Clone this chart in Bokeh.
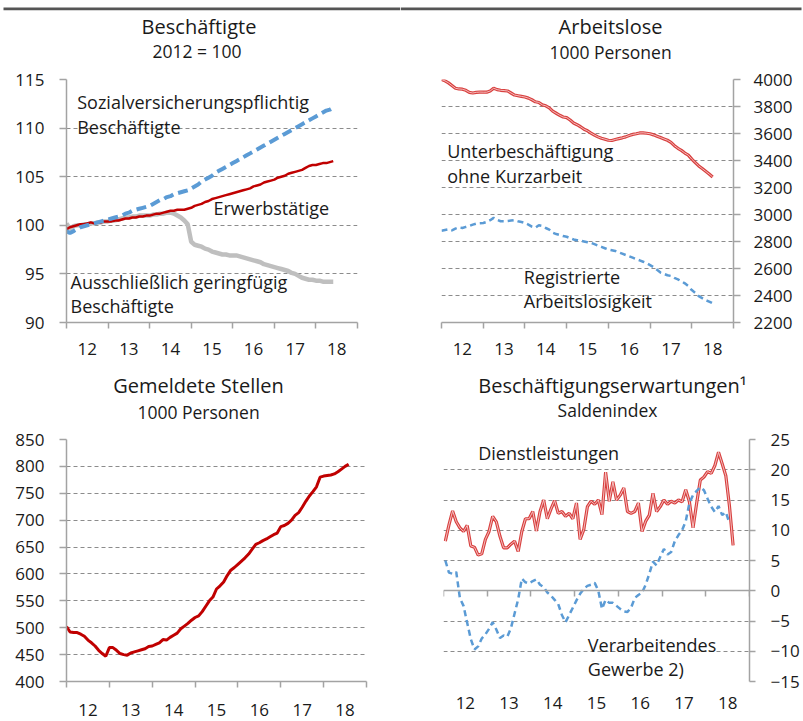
import numpy as np
from bokeh.plotting import figure
from bokeh.models import Range1d, FixedTicker, Label, LinearAxis, BoxAnnotation
from bokeh.layouts import column, row
from bokeh.embed import file_html
from bokeh.resources import INLINE

# ---------------- data ----------------
YEARS = [2012, 2013, 2014, 2015, 2016, 2017, 2018, 2019]
YEAR_LABELS = ["12", "13", "14", "15", "16", "17", "18"]

# Panel 1: Beschaeftigte, 2012 = 100 (monthly from Jan 2012)
SV_BESCH = [99.4, 99.2, 99.4, 99.6, 99.8, 99.9, 100.0, 100.1, 100.2, 100.3, 100.4, 100.5,
            100.6, 100.7, 100.8, 100.9, 101.0, 101.2, 101.3, 101.5, 101.6, 101.7, 101.8, 101.9,
            102.0, 102.2, 102.4, 102.6, 102.7, 102.9, 103.0, 103.2, 103.3, 103.4, 103.5, 103.6,
            103.8, 104.0, 104.2, 104.5, 104.7, 104.9, 105.1, 105.4, 105.6, 105.8, 106.0, 106.2,
            106.4, 106.6, 106.8, 107.0, 107.2, 107.4, 107.6, 107.8, 108.0, 108.2, 108.4, 108.6,
            108.8, 109.0, 109.2, 109.4, 109.6, 109.8, 110.0, 110.2, 110.4, 110.6, 110.8, 111.0,
            111.2, 111.4, 111.6, 111.8, 111.9, 112.1]
ERWERB = [99.6, 99.8, 99.9, 100.0, 100.1, 100.1, 100.2, 100.3, 100.2, 100.3, 100.3, 100.4,
          100.4, 100.4, 100.5, 100.5, 100.6, 100.7, 100.7, 100.8, 100.8, 100.9, 100.9, 101.0,
          101.0, 101.1, 101.2, 101.2, 101.3, 101.4, 101.5, 101.5, 101.6, 101.6, 101.6, 101.7,
          101.8, 102.0, 102.1, 102.2, 102.4, 102.5, 102.7, 102.8, 102.9, 103.0, 103.1, 103.2,
          103.3, 103.4, 103.5, 103.6, 103.7, 103.8, 104.0, 104.1, 104.2, 104.4, 104.5, 104.6,
          104.7, 104.9, 105.0, 105.1, 105.3, 105.4, 105.5, 105.6, 105.7, 105.9, 106.1, 106.2,
          106.2, 106.3, 106.4, 106.4, 106.5, 106.6]
GERINGF = [100.2, 99.6, 99.9, 100.0, 100.0, 100.1, 100.1, 100.2, 100.2, 100.3, 100.3, 100.4,
           100.4, 100.5, 100.5, 100.6, 100.7, 100.8, 100.8, 100.9, 100.9, 101.0, 101.0, 101.0,
           101.0, 101.1, 101.1, 101.2, 101.2, 101.3, 101.3, 101.2, 101.0, 100.8, 100.5, 100.1,
           98.3, 98.0, 97.9, 97.8, 97.6, 97.5, 97.3, 97.2, 97.1, 97.0, 97.0, 96.9,
           96.9, 96.9, 96.8, 96.7, 96.6, 96.5, 96.4, 96.3, 96.2, 96.0, 95.9, 95.8,
           95.7, 95.6, 95.5, 95.4, 95.3, 95.1, 95.0, 94.8, 94.6, 94.5, 94.4, 94.4,
           94.3, 94.3, 94.2, 94.2, 94.2, 94.2]

# Panel 2: Arbeitslose, 1000 Personen (monthly from Jan 2012)
UNTERBESCH = [4000, 3990, 3975, 3955, 3935, 3930, 3928, 3920, 3905, 3900, 3905, 3907,
              3906, 3906, 3915, 3935, 3925, 3920, 3918, 3915, 3900, 3885, 3880, 3875,
              3870, 3862, 3850, 3835, 3830, 3812, 3805, 3790, 3765, 3750, 3735, 3722,
              3718, 3700, 3678, 3665, 3650, 3632, 3620, 3603, 3588, 3575, 3565, 3558,
              3550, 3548, 3556, 3562, 3568, 3575, 3585, 3593, 3598, 3604, 3605, 3602,
              3598, 3590, 3580, 3570, 3560, 3550, 3535, 3510, 3490, 3475, 3455, 3440,
              3410, 3385, 3360, 3340, 3320, 3300, 3278]
REGISTRIERT = [2880, 2885, 2890, 2882, 2895, 2905, 2900, 2908, 2915, 2925, 2932, 2935,
               2937, 2945, 2958, 2975, 2960, 2950, 2950, 2952, 2955, 2958, 2950, 2945,
               2938, 2925, 2910, 2902, 2920, 2915, 2900, 2888, 2865, 2855, 2848, 2840,
               2835, 2825, 2815, 2810, 2805, 2800, 2795, 2790, 2780, 2770, 2760, 2750,
               2740, 2735, 2730, 2720, 2710, 2700, 2690, 2680, 2670, 2660, 2650, 2640,
               2625, 2610, 2590, 2570, 2560, 2550, 2545, 2530, 2520, 2505, 2490, 2470,
               2440, 2420, 2395, 2380, 2365, 2355, 2342]

# Panel 3: Gemeldete Stellen, 1000 Personen (monthly from Jan 2012)
STELLEN = [502, 492, 491, 491, 488, 484, 477, 472, 466, 458, 452, 447,
           463, 463, 458, 452, 450, 449, 453, 455, 457, 459, 461, 465,
           466, 469, 472, 478, 477, 482, 486, 490, 498, 503, 508, 514,
           519, 522, 530, 540, 550, 557, 572, 578, 585, 597, 607, 612,
           618, 624, 630, 637, 646, 655, 658, 662, 665, 669, 673, 676,
           688, 690, 694, 700, 709, 714, 724, 735, 745, 753, 762, 780,
           782, 783, 784, 786, 790, 795, 800, 804]

# Panel 4: Beschaeftigungserwartungen, Saldenindex (monthly, mid-month from Jan 2012)
DIENST = [8.2, 10.9, 13.2, 11.4, 10.4, 9.8, 10.8, 7.4, 7.2, 5.9, 6.1, 8.5,
          9.8, 12.3, 11.4, 9.0, 7.1, 7.1, 7.7, 8.2, 6.5, 9.8, 11.9, 11.9,
          13.1, 9.9, 13.1, 15.0, 11.9, 13.5, 14.9, 12.8, 13.1, 12.3, 12.8, 11.9,
          14.5, 8.5, 10.1, 13.9, 14.8, 14.3, 15.0, 12.6, 19.6, 14.8, 18.0, 15.0,
          15.8, 17.0, 13.1, 12.8, 13.1, 14.5, 9.8, 11.5, 12.5, 16.1, 13.1, 13.9,
          15.0, 14.3, 14.8, 14.5, 15.0, 14.7, 16.7, 14.7, 10.4, 14.5, 18.3, 18.8,
          19.7, 19.4, 20.7, 22.9, 21.0, 19.0, 14.0, 7.5]
VERARB = [5.0, 3.0, 2.8, 3.1, -1.2, -2.5, -5.3, -8.0, -9.7, -9.2, -7.9, -7.2,
          -6.3, -5.2, -6.4, -7.8, -7.4, -7.6, -6.2, -3.8, -1.4, 2.0, 1.4, 1.2,
          1.6, 1.9, 1.0, 0.6, -0.3, -0.8, -1.5, -2.2, -4.0, -5.2, -4.0, -2.8,
          -1.6, -0.5, 0.3, 0.8, 1.0, 1.3, 0.0, -3.0, -1.5, -2.0, -2.0, -2.5,
          -3.0, -3.4, -3.5, -2.8, -1.2, -0.7, -0.3, 1.0, 2.8, 4.8, 4.2, 5.6,
          6.9, 6.0, 6.4, 8.2, 9.2, 10.0, 11.5, 14.5, 15.8, 16.5, 17.1, 16.6,
          15.2, 13.9, 13.0, 14.0, 12.5, 13.0, 11.2]

Y1_TICKS = [90, 95, 100, 105, 110, 115]
Y2_TICKS = [2200, 2400, 2600, 2800, 3000, 3200, 3400, 3600, 3800, 4000]
Y3_TICKS = [400, 450, 500, 550, 600, 650, 700, 750, 800, 850]
Y4_TICKS = [-15, -10, -5, 0, 5, 10, 15, 20, 25]


def months(n, offset=0.0):
    return 2012 + (np.arange(n) + offset) / 12.0


# ---------------- style ----------------
FONT = "Open Sans"
TXT = "#1a1a1a"
AXIS_C = "#a3a3a3"
GRID_C = "#8c8c8c"
RULE_C = "#555555"
RED_DARK = "#c00000"
RED_LIGHT = "#d8403f"
RED_CORE = "#f7cccc"
BLUE = "#5b9bd5"
GRAY = "#bfbfbf"

MID = [y + 0.5 for y in YEARS[:-1]]


def make_fig(w, h, left, right, top, bottom, yticks, grid_ticks, yloc, xstandoff, ystandoff, ytick_out):
    p = figure(width=w, height=h, title=None, x_range=Range1d(YEARS[0], YEARS[-1]),
               y_range=Range1d(yticks[0], yticks[-1]), toolbar_location=None, tools="",
               output_backend="svg", y_axis_location=yloc,
               min_border_left=left, min_border_right=right,
               min_border_top=top, min_border_bottom=bottom)
    p.outline_line_color = None
    p.xgrid.visible = False
    p.ygrid.ticker = FixedTicker(ticks=grid_ticks)
    p.ygrid.grid_line_color = GRID_C
    p.ygrid.grid_line_dash = "4 3"
    p.ygrid.grid_line_width = 1

    xa = p.xaxis[0]
    xa.ticker = FixedTicker(ticks=MID, minor_ticks=YEARS)
    xa.major_label_overrides = {m: lab for m, lab in zip(MID, YEAR_LABELS)}
    xa.major_tick_in = 0
    xa.major_tick_out = 0
    xa.minor_tick_in = 0
    xa.minor_tick_out = 6
    xa.minor_tick_line_color = AXIS_C
    xa.minor_tick_line_width = 1.5
    xa.axis_line_color = AXIS_C
    xa.axis_line_width = 1.5
    xa.major_label_text_font = FONT
    xa.major_label_text_font_size = "17px"
    xa.major_label_text_color = TXT
    xa.major_label_standoff = xstandoff

    ya = p.yaxis[0]
    ya.ticker = FixedTicker(ticks=yticks)
    ya.major_tick_in = 0
    ya.major_tick_out = ytick_out
    ya.minor_tick_in = 0
    ya.minor_tick_out = 0
    ya.major_tick_line_color = AXIS_C
    ya.major_tick_line_width = 1.5
    ya.axis_line_color = AXIS_C
    ya.axis_line_width = 1.5
    ya.major_label_text_font = FONT
    ya.major_label_text_font_size = "17px"
    ya.major_label_text_color = TXT
    ya.major_label_standoff = ystandoff
    return p


def header(w, h):
    p = figure(width=w, height=h, title=None, x_range=Range1d(0, w), y_range=Range1d(0, h),
               toolbar_location=None, tools="", output_backend="svg",
               x_axis_location=None, y_axis_location=None, min_border=0,
               min_border_left=0, min_border_right=0, min_border_top=0, min_border_bottom=0)
    p.outline_line_color = None
    p.grid.visible = False
    return p


def text(p, x, base_y, s, size=18.0, align="left"):
    # base_y: distance of the text baseline above the frame bottom (px);
    # the label is anchored at the middle of its text box
    p.add_layout(Label(x=x, y=base_y + 0.388 * size, x_units="screen", y_units="screen", text=s,
                       text_font=FONT, text_font_size=f"{size}px", text_color=TXT,
                       text_align=align, text_baseline="middle"))


# ---- headers (titles) ----
h1 = header(400, 66)
h1.add_layout(BoxAnnotation(left=3, right=400, bottom=56.3, top=59, fill_color=RULE_C,
                            fill_alpha=1, line_color=None))
text(h1, 198.5, 32.5, "Beschäftigte", 20, "center")
text(h1, 196.5, 8.5, "2012 = 100", 17.5, "center")

h2 = header(403, 66)
h2.add_layout(BoxAnnotation(left=0, right=401, bottom=56.3, top=59, fill_color=RULE_C,
                            fill_alpha=1, line_color=None))
text(h2, 210, 32, "Arbeitslose", 20, "center")
text(h2, 210, 7.5, "1000 Personen", 17.5, "center")

h3 = header(400, 66)
text(h3, 198, 33, "Gemeldete Stellen", 20, "center")
text(h3, 198, 7.5, "1000 Personen", 17.5, "center")

h4 = header(403, 66)
text(h4, 212, 33, "Beschäftigungserwartungen¹", 20, "center")
text(h4, 207, 9.5, "Saldenindex", 17.5, "center")

# ---- Panel 1 ----
p1 = make_fig(400, 294, 66, 43, 11, 38, Y1_TICKS, Y1_TICKS[1:], "left", 14, 15, 7)
p1.line(months(len(GERINGF)), GERINGF, line_color=GRAY, line_width=4.5)
p1.line(months(len(ERWERB)), ERWERB, line_color=RED_DARK, line_width=2.5)
p1.line(months(len(SV_BESCH)), SV_BESCH, line_color=BLUE, line_width=4, line_dash="10 5")
text(p1, 10.7, 214, "Sozialversicherungspflichtig")
text(p1, 10.7, 189, "Beschäftigte")
text(p1, 147, 107.5, "Erwerbstätige")
text(p1, 4, 33.7, "Ausschließlich geringfügig")
text(p1, 4, 9.3, "Beschäftigte")

# ---- Panel 2 ----
p2 = make_fig(403, 294, 41, 70, 13, 38, Y2_TICKS, Y2_TICKS[1:], "right", 14, 13, 7)
x2 = months(len(UNTERBESCH))
p2.line(x2, UNTERBESCH, line_color=RED_LIGHT, line_width=3.2)
p2.line(x2, UNTERBESCH, line_color=RED_CORE, line_width=0.9)
p2.line(months(len(REGISTRIERT)), REGISTRIERT, line_color=BLUE, line_width=2.5, line_dash="6 4")
text(p2, 5.7, 164.7, "Unterbeschäftigung")
text(p2, 5.7, 139.3, "ohne Kurzarbeit")
text(p2, 82.3, 38.7, "Registrierte")
text(p2, 82.3, 14.7, "Arbeitslosigkeit")

# ---- Panel 3 ----
p3 = make_fig(400, 295, 66, 34, 10, 40, Y3_TICKS, Y3_TICKS[1:], "left", 16, 15, 7)
p3.line(months(len(STELLEN)), STELLEN, line_color=RED_DARK, line_width=3)

# ---- Panel 4 ----
p4 = make_fig(403, 295, 43, 54, 13, 39, Y4_TICKS, [t for t in Y4_TICKS if t != 0], "right", 15, 15, 6)
p4.xaxis[0].axis_line_color = None
p4.xaxis[0].minor_tick_out = 0
zero_axis = LinearAxis(fixed_location=0, ticker=FixedTicker(ticks=[], minor_ticks=YEARS),
                       axis_line_color=AXIS_C, axis_line_width=1.5,
                       major_tick_in=0, major_tick_out=0, minor_tick_in=0, minor_tick_out=6,
                       minor_tick_line_color=AXIS_C, minor_tick_line_width=1.5,
                       major_label_text_font_size="0px")
p4.add_layout(zero_axis, "below")
x4d = months(len(DIENST), 0.5)
p4.line(x4d, DIENST, line_color=RED_LIGHT, line_width=3.2)
p4.line(x4d, DIENST, line_color=RED_CORE, line_width=0.9)
p4.line(months(len(VERARB), 0.5), VERARB, line_color=BLUE, line_width=2.5, line_dash="6 4")
text(p4, 34.7, 222, "Dienstleistungen")
text(p4, 144.3, 29.5, "Verarbeitendes")
text(p4, 144.3, 6, "Gewerbe 2)")

layout = column(row(h1, h2), row(p1, p2), row(h3, h4), row(p3, p4))
open("out.html", "w").write(file_html(layout, INLINE))
